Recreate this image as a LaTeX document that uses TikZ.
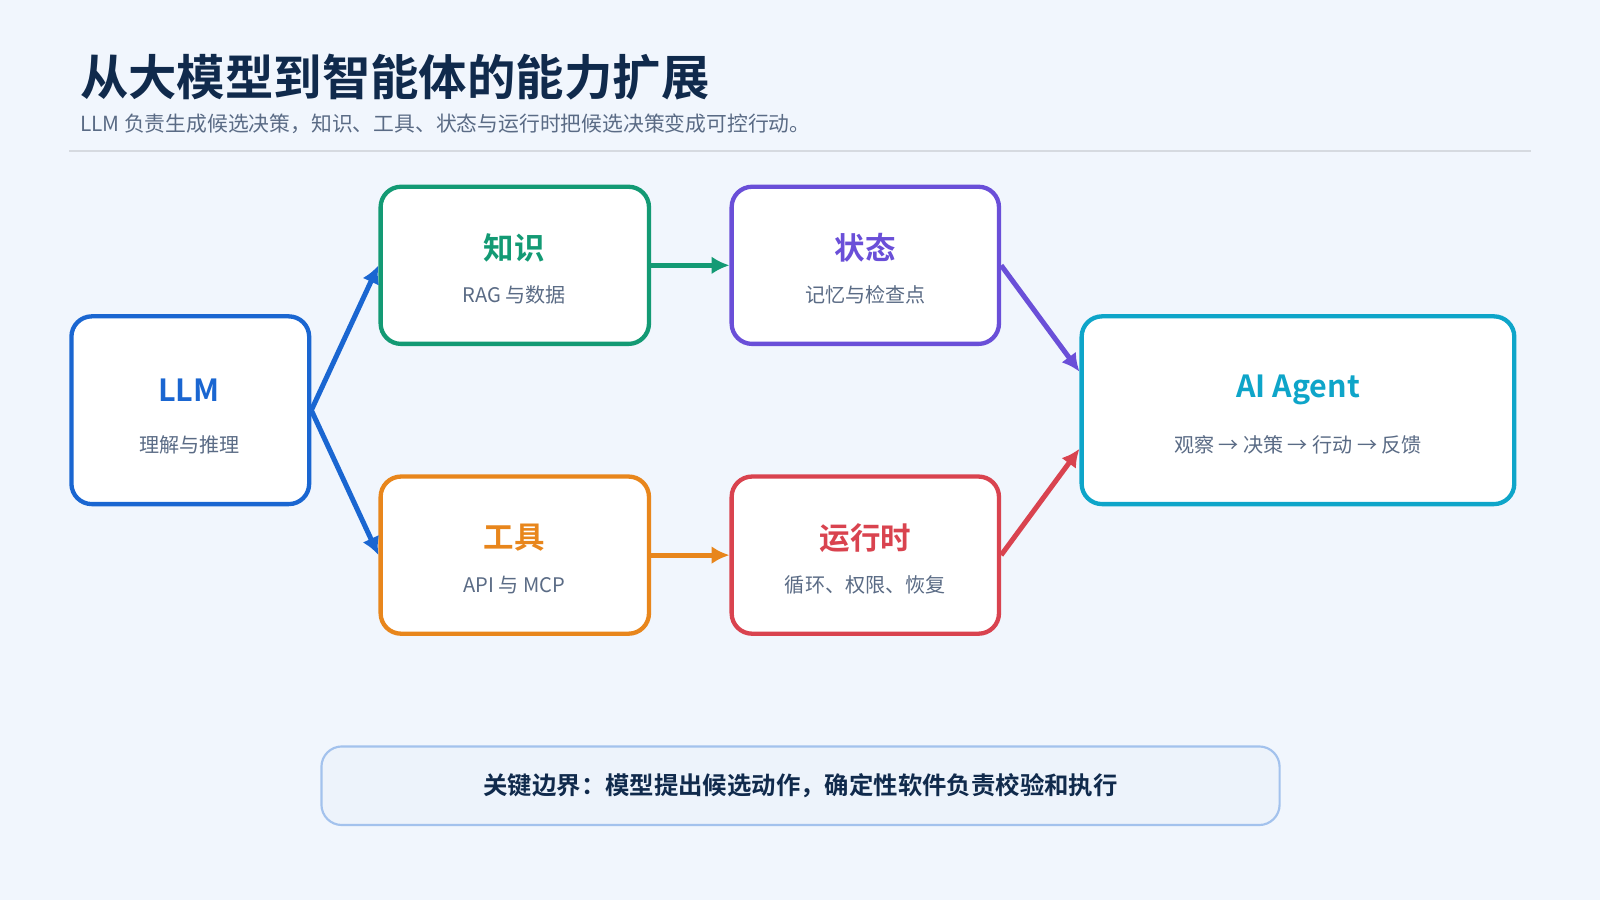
\documentclass[tikz,border=0pt]{standalone}
\usepackage{fontspec}
\setmainfont{Noto Sans CJK SC}[BoldFont={Noto Sans CJK SC Bold}]
\usetikzlibrary{arrows.meta}
\definecolor{bgc}{HTML}{F1F6FD}
\definecolor{navy}{HTML}{102A4C}
\definecolor{subc}{HTML}{5A6B85}
\definecolor{cllm}{HTML}{1A66D1}
\definecolor{cknow}{HTML}{139A74}
\definecolor{cstate}{HTML}{6A4FD8}
\definecolor{ctool}{HTML}{E8861C}
\definecolor{crun}{HTML}{D9434F}
\definecolor{cagent}{HTML}{0EA5C9}
\tikzset{
  card/.style={draw=#1, line width=1.2pt, fill=white, rounded corners=0.2cm, align=center},
  head/.style={font=\bfseries\fontsize{8.5}{10}\selectfont},
  note/.style={text=subc, font=\fontsize{5.6}{7}\selectfont},
  link/.style={draw=#1, line width=1.4pt, -{Latex[length=5pt,width=5pt]}}
}
\begin{document}
\begin{tikzpicture}[x=1cm, y=-1cm]
  \useasboundingbox[fill=bgc] (0,0) rectangle (15.68,8.82);
  % Heading
  \node (title) [anchor=west, text=navy, font=\bfseries\fontsize{13.5}{16}\selectfont] at (0.66,0.76) {从大模型到智能体的能力扩展};
  \node (sub) [anchor=west, text=subc, font=\fontsize{5.8}{7}\selectfont] at (0.66,1.21) {LLM 负责生成候选决策，知识、工具、状态与运行时把候选决策变成可控行动。};
  \draw [draw=subc!25, line width=0.5pt] (0.68,1.48) -- (15.0,1.48);
  % Cards
  \node (llm) [card=cllm, minimum width=2.33cm, minimum height=1.84cm] at (1.865,4.02) {};
  \node (know) [card=cknow, minimum width=2.63cm, minimum height=1.54cm] at (5.045,2.60) {};
  \node (state) [card=cstate, minimum width=2.62cm, minimum height=1.54cm] at (8.48,2.60) {};
  \node (tool) [card=ctool, minimum width=2.63cm, minimum height=1.54cm] at (5.045,5.44) {};
  \node (run) [card=crun, minimum width=2.62cm, minimum height=1.54cm] at (8.48,5.44) {};
  \node (agent) [card=cagent, minimum width=4.24cm, minimum height=1.84cm] at (12.72,4.02) {};
  % Texts
  \node [head, text=cllm] at (1.85,3.82) {LLM};
  \node [note] at (1.86,4.36) {理解与推理};
  \node [head, text=cknow] at (5.04,2.43) {知识};
  \node [note] at (5.04,2.89) {RAG 与数据};
  \node [head, text=cstate] at (8.48,2.43) {状态};
  \node [note] at (8.48,2.89) {记忆与检查点};
  \node [head, text=ctool] at (5.04,5.27) {工具};
  \node [note] at (5.04,5.73) {API 与 MCP};
  \node [head, text=crun] at (8.48,5.27) {运行时};
  \node [note] at (8.48,5.73) {循环、权限、恢复};
  \node [head, text=cagent] at (12.72,3.82) {AI Agent};
  \node [note] at (12.72,4.36) {观察 → 决策 → 行动 → 反馈};
  % Links
  \draw [link=cllm] (llm.east) -- (know.west);
  \draw [link=cllm] (llm.east) -- (tool.west);
  \draw [link=cknow] (know.east) -- (state.west);
  \draw [link=ctool] (tool.east) -- (run.west);
  \draw [link=cstate] (state.east) -- (agent.170);
  \draw [link=crun] (run.east) -- (agent.190);
  % Boundary note
  \node (bound) [draw=cllm!40, fill=cllm!8, rounded corners=0.2cm, line width=0.6pt, minimum width=9.39cm, minimum height=0.77cm, text=navy, font=\bfseries\fontsize{6.8}{8}\selectfont] at (7.845,7.70) {关键边界：模型提出候选动作，确定性软件负责校验和执行};
\end{tikzpicture}
\end{document}
